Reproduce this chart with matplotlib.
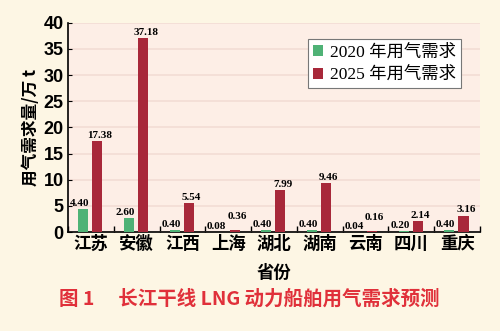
import numpy as np
import matplotlib.pyplot as plt

plt.rcParams['font.family'] = ['Liberation Serif', 'Noto Sans CJK SC']

provinces = ['江苏', '安徽', '江西', '上海', '湖北', '湖南', '云南', '四川', '重庆']
demand_2020 = [4.40, 2.60, 0.40, 0.08, 0.40, 0.40, 0.04, 0.20, 0.40]
demand_2025 = [17.38, 37.18, 5.54, 0.36, 7.99, 9.46, 0.16, 2.14, 3.16]

green = '#4fb276'
red = '#a8283a'

fig = plt.figure(figsize=(5, 3.31), dpi=100)
fig.patch.set_facecolor('#fdf6e4')
ax = fig.add_axes([0.136, 0.299, 0.824, 0.632])
ax.set_facecolor('#fdeee6')

x = np.arange(len(provinces))
w = 0.22
ax.bar(x - 0.17, demand_2020, w, color=green, label='2020 年用气需求', zorder=3)
ax.bar(x + 0.14, demand_2025, w, color=red, label='2025 年用气需求', zorder=3)

# 数据标签
for i in range(len(x)):
    v1, v2 = demand_2020[i], demand_2025[i]
    ax.text(x[i] - 0.25, v1 + 0.2, f'{v1:.2f}', ha='center', va='bottom',
            fontsize=8, fontweight='bold', zorder=4)
    dy = 1.8 if v2 < 1 else 0.2
    ax.text(x[i] + 0.2, v2 + dy, f'{v2:.2f}', ha='center', va='bottom',
            fontsize=8, fontweight='bold', zorder=4)

ax.set_xlim(-0.5, len(x) - 0.5)
ax.set_ylim(0, 40)
ax.set_yticks(range(0, 41, 5))
ax.yaxis.grid(True, color='#f3ddd5', linewidth=1.2, zorder=0)
ax.set_xticks(x)
ax.set_xticklabels(provinces, family='Noto Sans CJK SC', fontweight='bold', fontsize=12.5)
ax.set_xticks(np.arange(-0.5, len(x), 1), minor=True)
ax.tick_params(axis='x', which='major', length=0, pad=2)
ax.tick_params(axis='x', which='minor', direction='in', length=4, width=1)
ax.tick_params(axis='y', direction='in', length=3, labelsize=13, pad=3)
for lab in ax.get_yticklabels():
    lab.set_fontweight('bold')
    lab.set_family('Liberation Sans')

for s in ['top', 'right']:
    ax.spines[s].set_visible(False)
ax.spines['left'].set_linewidth(1.2)
ax.spines['bottom'].set_linewidth(1.2)

ax.set_ylabel('用气需求量/万 t', family='Noto Sans CJK SC', fontweight='bold', fontsize=12, labelpad=3)
ax.set_xlabel('省份', family='Noto Sans CJK SC', fontweight='bold', fontsize=12.5, labelpad=8)

leg = ax.legend(loc='upper right', bbox_to_anchor=(0.976, 0.962), fontsize=12.5,
                handlelength=0.6, handleheight=0.6, handletextpad=0.4,
                fancybox=False, framealpha=1, edgecolor='#777777', borderpad=0.3,
                labelspacing=0.35)
leg.get_frame().set_linewidth(0.8)

fig.text(0.498, 0.098, '图 1　 长江干线 LNG 动力船舶用气需求预测', ha='center', va='center',
         color='#e0303a', fontsize=14, fontweight='bold', family=['Noto Sans CJK SC'])

fig.savefig('out.png', dpi=100, facecolor=fig.get_facecolor())
